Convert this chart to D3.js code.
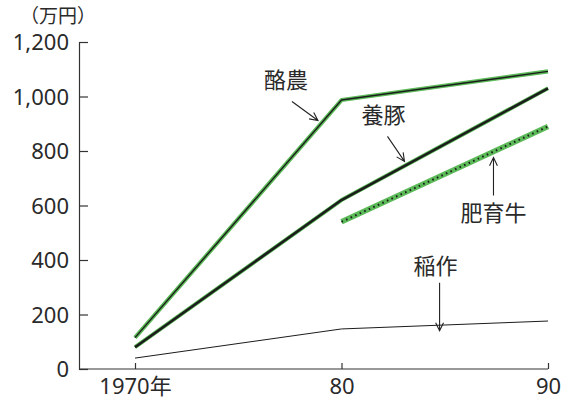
<!DOCTYPE html>
<html>
<head>
<meta charset="utf-8">
<script src="https://cdn.jsdelivr.net/npm/d3@7"></script>
<style>
  html, body { margin: 0; padding: 0; background: #fff; }
  svg { display: block; }
  text { font-family: "Noto Sans", "Noto Sans CJK JP", sans-serif; fill: #2a2a2a; }
</style>
</head>
<body>
<svg id="chart" width="570" height="399"></svg>
<script>
// Annual income per farm household by farming type (万円)
const years = [1970, 1980, 1990];
const dairy = [115, 987, 1092];     // 酪農
const pigs = [80, 620, 1030];       // 養豚
const beefYears = [1980, 1990];
const beef = [540, 890];            // 肥育牛
const rice = [40, 147, 176];        // 稲作
const yTicks = [0, 200, 400, 600, 800, 1000, 1200];
const yTickLabels = ["0", "200", "400", "600", "800", "1,000", "1,200"];
const xTickLabels = ["1970年", "80", "90"];

// callouts: arrow tip in data space, arrow tail and label offsets in px
const callouts = [
  { name: "酪農", year: 1978.86, value: 912, tail: [-26, -19], label: [-32, -32] },
  { name: "養豚", year: 1983.05, value: 762, tail: [-17, -25], label: [-21, -38] },
  { name: "肥育牛", year: 1987.36, value: 776, tail: [0, 38], label: [0, 63] },
  { name: "稲作", year: 1984.75, value: 140, tail: [0, -48], label: [-4, -57] }
];

const svg = d3.select("#chart");
const axisX = 79;
const x = d3.scaleLinear().domain([1970, 1990]).range([135, 548]);
const y = d3.scaleLinear().domain([0, 1200]).range([369, 42]);
const green = "#5cbb58";
const dark = "#1c1c1c";
const fontSize = 22;

// y axis with inward ticks
const yAxis = d3.axisLeft(y)
  .tickValues(yTicks)
  .tickFormat((d, i) => yTickLabels[i])
  .tickSizeInner(-9)
  .tickSizeOuter(0)
  .tickPadding(10);
const gy = svg.append("g").attr("transform", `translate(${axisX},0)`).call(yAxis);
gy.select(".domain").attr("stroke", "#333").attr("stroke-width", 1.2);
gy.selectAll(".tick line").attr("stroke", "#333").attr("stroke-width", 1.2);
gy.selectAll(".tick text").attr("font-size", fontSize).attr("fill", "#2a2a2a")
  .attr("font-family", '"Noto Sans", sans-serif').attr("dy", "0.36em");

// x axis with inward ticks
const xAxis = d3.axisBottom(x)
  .tickValues(years)
  .tickFormat((d, i) => xTickLabels[i])
  .tickSizeInner(-6)
  .tickSizeOuter(0);
const gx = svg.append("g").attr("transform", `translate(0,${y(0)})`).call(xAxis);
gx.select(".domain").remove();
gx.append("line").attr("x1", axisX).attr("x2", x(1990)).attr("y1", 0).attr("y2", 0)
  .attr("stroke", "#333").attr("stroke-width", 1.2);
gx.selectAll(".tick line").attr("stroke", "#333").attr("stroke-width", 1.2);
gx.selectAll(".tick text").attr("font-size", fontSize).attr("fill", "#2a2a2a")
  .attr("font-family", '"Noto Sans", "Noto Sans CJK JP", sans-serif')
  .attr("y", 25).attr("dy", 0);

// unit label
svg.append("text").attr("x", 58).attr("y", 23).attr("text-anchor", "middle")
  .attr("font-size", 19).attr("font-family", '"Noto Sans CJK JP", sans-serif')
  .text("（万円）");

const line = d3.line().x(d => x(d[0])).y(d => y(d[1]));
const zip = (xs, vs) => xs.map((v, i) => [v, vs[i]]);

// rice: thin plain line
svg.append("path").datum(zip(years, rice)).attr("d", line)
  .attr("fill", "none").attr("stroke", dark).attr("stroke-width", 1);

// beef: broad green band with dotted core
const beefG = svg.append("g");
beefG.append("path").datum(zip(beefYears, beef)).attr("d", line)
  .attr("fill", "none").attr("stroke", green).attr("stroke-width", 5.5);
beefG.append("path").datum(zip(beefYears, beef)).attr("d", line)
  .attr("fill", "none").attr("stroke", dark).attr("stroke-width", 2)
  .attr("stroke-dasharray", "1.6,3.4");

// pigs: heavy dark line with green edge
const pigG = svg.append("g");
pigG.append("path").datum(zip(years, pigs)).attr("d", line)
  .attr("fill", "none").attr("stroke", green).attr("stroke-width", 4)
  .attr("stroke-linejoin", "round");
pigG.append("path").datum(zip(years, pigs)).attr("d", line)
  .attr("fill", "none").attr("stroke", dark).attr("stroke-width", 2.6)
  .attr("stroke-linejoin", "round");

// dairy: green line with thin dark core
const dairyG = svg.append("g");
dairyG.append("path").datum(zip(years, dairy)).attr("d", line)
  .attr("fill", "none").attr("stroke", green).attr("stroke-width", 4.2)
  .attr("stroke-linejoin", "round");
dairyG.append("path").datum(zip(years, dairy)).attr("d", line)
  .attr("fill", "none").attr("stroke", dark).attr("stroke-width", 1.4)
  .attr("stroke-linejoin", "round");

// callout labels and arrows
callouts.forEach(c => {
  const tx = x(c.year), ty = y(c.value);
  const sx = tx + c.tail[0], sy = ty + c.tail[1];
  const ang = Math.atan2(ty - sy, tx - sx);
  const head = 9, spread = 0.45;
  const h1 = [tx - head * Math.cos(ang - spread), ty - head * Math.sin(ang - spread)];
  const h2 = [tx - head * Math.cos(ang + spread), ty - head * Math.sin(ang + spread)];
  svg.append("path")
    .attr("d", `M${sx},${sy}L${tx},${ty}M${h1[0]},${h1[1]}L${tx},${ty}L${h2[0]},${h2[1]}`)
    .attr("fill", "none").attr("stroke", "#222").attr("stroke-width", 1.1);
  svg.append("text")
    .attr("x", tx + c.label[0]).attr("y", ty + c.label[1])
    .attr("text-anchor", "middle")
    .attr("font-size", fontSize)
    .attr("font-family", '"Noto Sans CJK JP", sans-serif')
    .text(c.name);
});
</script>
</body>
</html>
